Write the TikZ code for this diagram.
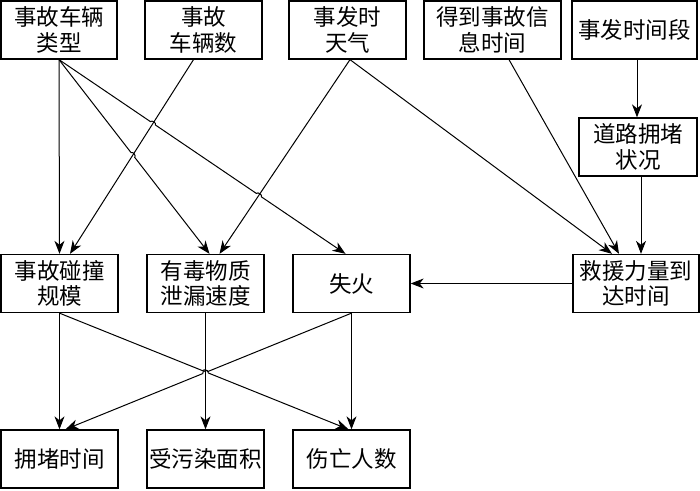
\documentclass[tikz,border=0pt]{standalone}
\usepackage{fontspec}
\newfontfamily\cjk{Noto Sans CJK SC}
\usetikzlibrary{arrows.meta,calc,intersections}
\begin{document}
\begin{tikzpicture}[x=1pt,y=1pt,
  box/.style={draw,line width=1.3pt,inner sep=0pt,align=center,
    font=\cjk\fontsize{22.5}{25.5}\selectfont,minimum height=58pt},
  arr/.style={line width=1pt,-{Stealth[length=13pt,width=10pt,inset=4pt]}}]
\useasboundingbox (0,0) rectangle (700,490);
% top row
\node[box,minimum width=116pt] (n1) at (59,460)    {事故车辆\\类型};
\node[box,minimum width=117pt] (n2) at (203.5,460) {事故\\车辆数};
\node[box,minimum width=117pt] (n3) at (347.5,460) {事发时\\天气};
\node[box,minimum width=137pt] (n4) at (492.5,460) {得到事故信\\息时间};
\node[box,minimum width=125pt] (n5) at (634.5,460) {事发时间段};
\node[box,minimum width=118pt] (rd) at (638,343)   {道路拥堵\\状况};
% middle row
\node[box,minimum width=117pt] (m1) at (59.5,206.5)  {事故碰撞\\规模};
\node[box,minimum width=117pt] (m2) at (205.5,206.5) {有毒物质\\泄漏速度};
\node[box,minimum width=117pt] (m3) at (351.5,206.5) {失火};
\node[box,minimum width=126pt] (m4) at (636,206.5)   {救援力量到\\达时间};
% bottom row
\node[box,minimum width=117pt] (b1) at (59.5,31)  {拥堵时间};
\node[box,minimum width=117pt] (b2) at (205.5,31) {受污染面积};
\node[box,minimum width=117pt] (b3) at (351.5,31) {伤亡人数};
% end points
\coordinate (n1s)  at (n1.south);
\coordinate (n2s)  at ($(n2.south)+(-10,0)$);
\coordinate (n3s)  at ($(n3.south)+(2.5,0)$);
\coordinate (n4s)  at ($(n4.south)+(16.5,0)$);
\coordinate (m1na) at ($(m1.north)+(10.5,0)$);
\coordinate (m2na) at ($(m2.north)+(4,0)$);
\coordinate (m2nb) at ($(m2.north)+(14,0)$);
\coordinate (m3na) at ($(m3.north)+(-6,0)$);
\coordinate (m4na) at ($(m4.north)+(-24,0)$);
\coordinate (m4nb) at ($(m4.north)+(-17,0)$);
\coordinate (m4nc) at ($(m4.north)+(5,0)$);
\coordinate (rds)  at ($(rd.south)+(3,0)$);
\coordinate (rdn)  at ($(rd.north)+(-1,0)$);
\coordinate (n5s)  at ($(n5.south)+(2.5,0)$);
\coordinate (b3na) at ($(b3.north)+(-3,0)$);
\coordinate (b1na) at ($(b1.north)+(6,0)$);
% crossing paths
\path[name path=pA] (n1s) -- (m3na);
\path[name path=pB] (n2s) -- (m1na);
\path[name path=pC] (n1s) -- (m2na);
\path[name path=pD] (n3s) -- (m2nb);
\path[name path=pE] (m1.south) -- (b3na);
\path[name path=pF] (m2.south) -- (b2.north);
\path[name path=pG] (m3.south) -- (b1na);
\path[name intersections={of=pA and pB,by=x1}];
\path[name intersections={of=pC and pB,by=x2}];
\path[name intersections={of=pA and pD,by=x3}];
\path[name intersections={of=pE and pF,by=x4}];
\path[name intersections={of=pG and pF,by=x5}];
% connectors
\draw[arr] (n1s) -- (m1.north);
\draw[arr] (n2s) -- (m1na);
\draw[arr] (n1s) -- ($(x2)!3pt!(n1s)$) to[bend left=90] ($(x2)!3pt!(m2na)$) -- (m2na);
\draw[arr] (n1s) -- ($(x1)!3pt!(n1s)$) to[bend left=90] ($(x1)!3pt!(m3na)$)
  -- ($(x3)!3pt!(n1s)$) to[bend left=90] ($(x3)!3pt!(m3na)$) -- (m3na);
\draw[arr] (n3s) -- (m2nb);
\draw[arr] (n3s) -- (m4na);
\draw[arr] (n4s) -- (m4nb);
\draw[arr] (n5s) -- (rdn);
\draw[arr] (rds) -- (m4nc);
\draw[arr] (m4.west) -- (m3.east);
\draw[arr] (m1.south) -- (b1.north);
\draw[arr] (m1.south) -- ($(x4)!3pt!(m1.south)$) to[bend left=90] ($(x4)!3pt!(b3na)$) -- (b3na);
\draw[arr] (m2.south) -- (b2.north);
\draw[arr] (m3.south) -- ($(x5)!3pt!(m3.south)$) to[bend right=90] ($(x5)!3pt!(b1na)$) -- (b1na);
\draw[arr] (m3.south) -- (b3.north);
\end{tikzpicture}
\end{document}
